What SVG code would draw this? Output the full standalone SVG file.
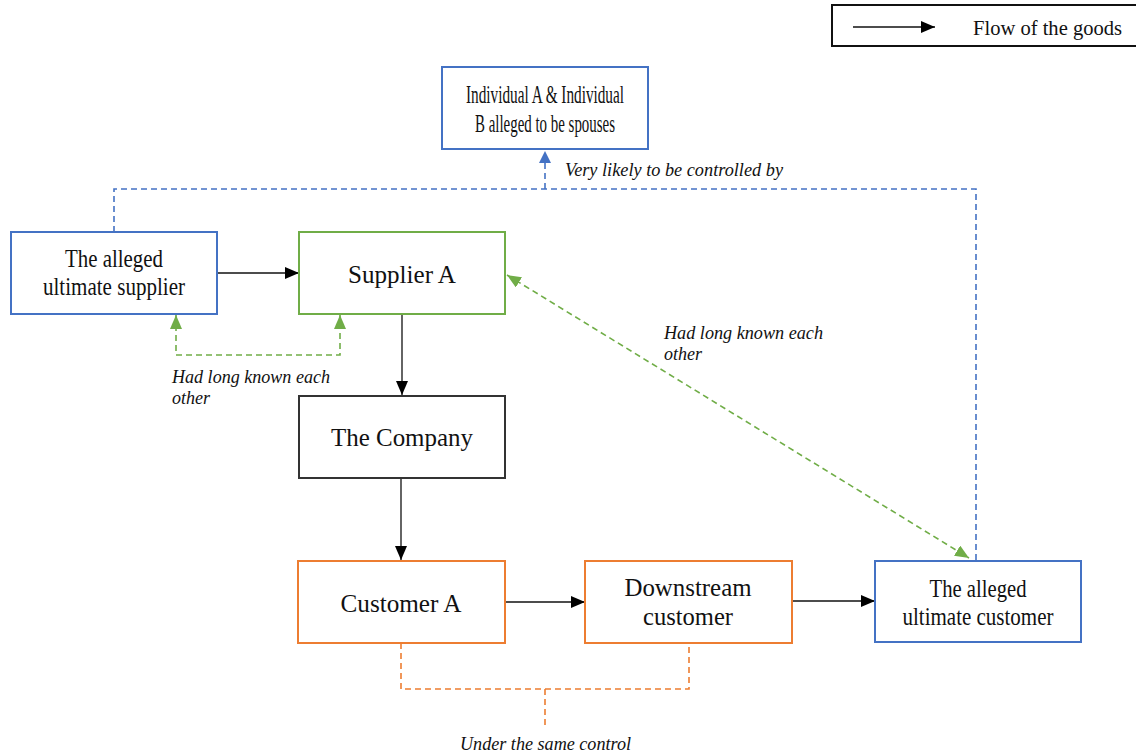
<svg xmlns="http://www.w3.org/2000/svg" width="1136" height="756" viewBox="0 0 1136 756">
<defs>
<style>
.box{fill:#fff;stroke-width:2}
.blue{stroke:#4472C4}
.green{stroke:#70AD47}
.orange{stroke:#ED7D31}
.black{stroke:#333}
.t{font-family:"Liberation Serif","Times New Roman",serif;fill:#111;text-anchor:middle;font-size:25px}
.lab{font-family:"Liberation Serif","Times New Roman",serif;font-style:italic;fill:#111;font-size:18px}
.flow{stroke:#111;stroke-width:1.3;fill:none}
.dash{fill:none;stroke-width:1.6;stroke-dasharray:6 4}
</style>
<marker id="ab" viewBox="0 0 14 12" refX="14" refY="6" markerWidth="14" markerHeight="12" markerUnits="userSpaceOnUse" orient="auto"><path d="M0,0 L14,6 L0,12 Z" fill="#000"/></marker>
<marker id="ag" viewBox="0 0 14 12" refX="14" refY="6" markerWidth="14" markerHeight="12" markerUnits="userSpaceOnUse" orient="auto-start-reverse"><path d="M0,0 L14,6 L0,12 Z" fill="#70AD47"/></marker>
<marker id="abl" viewBox="0 0 12 12" refX="12" refY="6" markerWidth="12" markerHeight="12" markerUnits="userSpaceOnUse" orient="auto"><path d="M0,0 L12,6 L0,12 Z" fill="#4472C4"/></marker>
</defs>
<rect width="1136" height="756" fill="#fff"/>

<g id="legend">
<rect x="832" y="5" width="320" height="41" fill="#fff" stroke="#111" stroke-width="2"/>
<line x1="853" y1="27" x2="935" y2="27" class="flow" marker-end="url(#ab)"/>
<text x="973" y="35" class="t" style="text-anchor:start;font-size:20px" textLength="149" lengthAdjust="spacingAndGlyphs">Flow of the goods</text>
</g>

<g id="connectors">
<line x1="217" y1="273" x2="299" y2="273" class="flow" marker-end="url(#ab)"/>
<line x1="402" y1="314" x2="402" y2="395" class="flow" marker-end="url(#ab)"/>
<line x1="401" y1="478" x2="401" y2="560" class="flow" marker-end="url(#ab)"/>
<line x1="505" y1="602" x2="585" y2="602" class="flow" marker-end="url(#ab)"/>
<line x1="792" y1="601" x2="875" y2="601" class="flow" marker-end="url(#ab)"/>
<path d="M114,232 L114,189 L976,189 L976,560" class="dash blue"/>
<path d="M545,189 L545,151" class="dash blue" marker-end="url(#abl)"/>
<path d="M176,315 L176,355 L340,355 L340,315" class="dash green" marker-start="url(#ag)" marker-end="url(#ag)"/>
<path d="M507,275 L969,558" class="dash green" marker-start="url(#ag)" marker-end="url(#ag)"/>
<path d="M401,643 L401,689 L689,689 L689,643" class="dash orange"/>
<path d="M545,689 L545,729" class="dash orange"/>
<text x="565" y="176" class="lab" textLength="218" lengthAdjust="spacingAndGlyphs">Very likely to be controlled by</text>
<text x="172" y="383" class="lab" textLength="158" lengthAdjust="spacingAndGlyphs">Had long known each</text>
<text x="172" y="404" class="lab">other</text>
<text x="664" y="339" class="lab" textLength="159" lengthAdjust="spacingAndGlyphs">Had long known each</text>
<text x="664" y="360" class="lab">other</text>
<text x="460" y="750" class="lab" textLength="171" lengthAdjust="spacingAndGlyphs">Under the same control</text>
</g>

<g id="individuals">
<rect x="442" y="67" width="206" height="82" class="box blue"/>
<text x="545" y="103" class="t" style="font-size:25px" textLength="158" lengthAdjust="spacingAndGlyphs">Individual A &amp; Individual</text>
<text x="545" y="132" class="t" style="font-size:25px" textLength="140" lengthAdjust="spacingAndGlyphs">B alleged to be spouses</text>
</g>

<g id="ultimate-supplier">
<rect x="11" y="232" width="206" height="82" class="box blue"/>
<text x="114" y="267" class="t" textLength="98" lengthAdjust="spacingAndGlyphs">The alleged</text>
<text x="114" y="295" class="t" textLength="142" lengthAdjust="spacingAndGlyphs">ultimate supplier</text>
</g>

<g id="supplier-a">
<rect x="299" y="232" width="206" height="82" class="box green"/>
<text x="402" y="283" class="t" textLength="108" lengthAdjust="spacingAndGlyphs">Supplier A</text>
</g>

<g id="company">
<rect x="299" y="396" width="206" height="82" class="box black"/>
<text x="402" y="446" class="t" textLength="142" lengthAdjust="spacingAndGlyphs">The Company</text>
</g>

<g id="customer-a">
<rect x="298" y="561" width="207" height="82" class="box orange"/>
<text x="401" y="612" class="t" textLength="121" lengthAdjust="spacingAndGlyphs">Customer A</text>
</g>

<g id="downstream">
<rect x="585" y="561" width="207" height="82" class="box orange"/>
<text x="688" y="596" class="t" textLength="127" lengthAdjust="spacingAndGlyphs">Downstream</text>
<text x="688" y="625" class="t" textLength="90" lengthAdjust="spacingAndGlyphs">customer</text>
</g>

<g id="ultimate-customer">
<rect x="875" y="561" width="206" height="81" class="box blue"/>
<text x="978" y="597" class="t" textLength="97" lengthAdjust="spacingAndGlyphs">The alleged</text>
<text x="978" y="625" class="t" textLength="151" lengthAdjust="spacingAndGlyphs">ultimate customer</text>
</g>
</svg>
